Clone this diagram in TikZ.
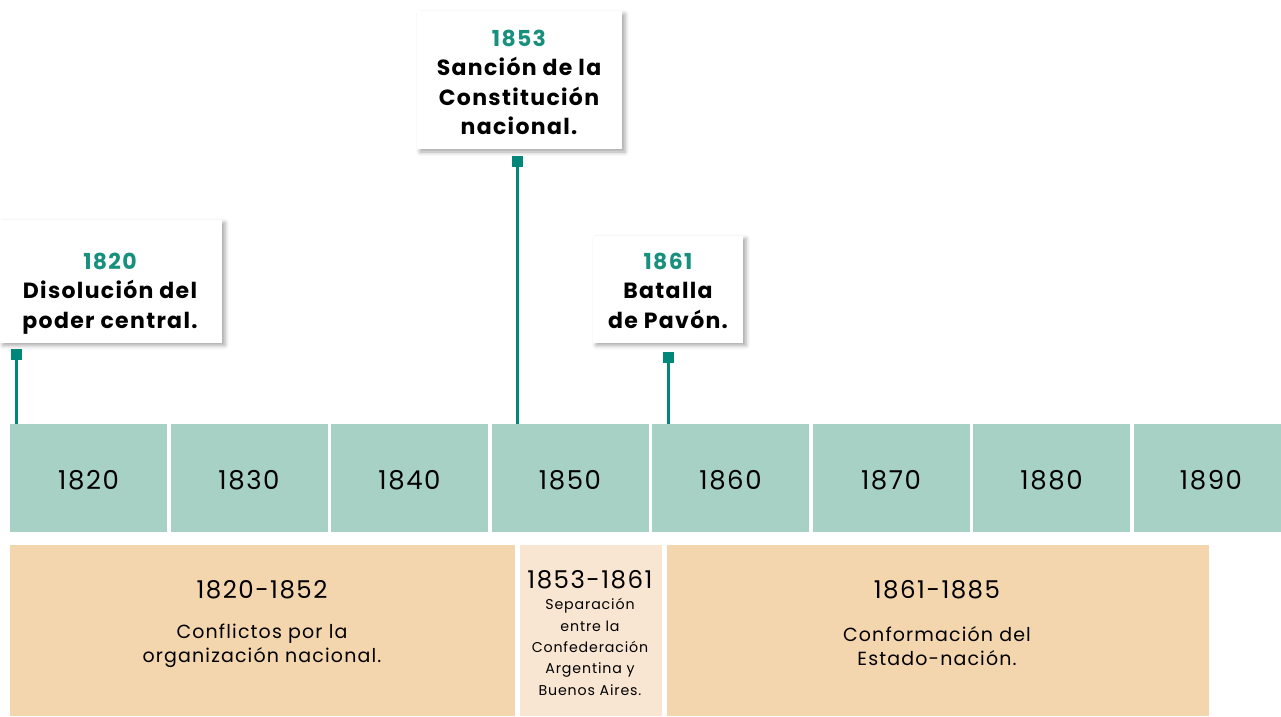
\documentclass[tikz,border=0pt]{standalone}
\usepackage{fontspec}
\setmainfont{Poppins}[LetterSpace=6]
\usetikzlibrary{shadows.blur}
\definecolor{tl}{HTML}{A8D1C5}
\definecolor{stem}{HTML}{00877A}
\definecolor{grn}{HTML}{17907E}
\definecolor{tan}{HTML}{F3D5AE}
\definecolor{ltan}{HTML}{F8E6D2}
\tikzset{
  decfont/.style={font=\fontsize{26}{30}\selectfont, text height=22pt, text depth=0pt},
  decbox/.style={decfont, fill=tl, draw=none, minimum width=157pt, minimum height=108pt, inner sep=0pt},
  callout/.style={fill=white, draw=none, inner sep=0pt, blur shadow={shadow xshift=3pt, shadow yshift=-3pt, shadow blur radius=4pt, shadow opacity=35}},
  ctext/.style={align=center, font=\fontsize{22}{29.5}\selectfont\bfseries, inner sep=0pt},
  marker/.style={fill=stem, draw=none, minimum size=11pt, inner sep=0pt},
  stemline/.style={draw=stem, line width=2.6pt},
  perbox/.style={draw=none, inner sep=0pt},
  ptitle/.style={font=\fontsize{24.5}{28}\selectfont, inner sep=0pt},
  pbody/.style={align=center, font=\fontsize{19}{24}\selectfont, inner sep=0pt},
  psmall/.style={align=center, font=\fontsize{14.2}{21.3}\selectfont, inner sep=0pt}
}
\begin{document}
\begin{tikzpicture}[x=1pt,y=-1pt]
\useasboundingbox (0,0) rectangle (1281,716);
% timeline
\foreach \i/\yr in {0/1820,1/1830,2/1840,3/1850,4/1860,5/1870,6/1880}{
  \node[decbox] (t\yr) at ({88.5+160.5*\i},478) {\yr};
}
\begin{scope}
\clip (0,0) rectangle (1281,716);
\node[decbox] (t1890) at ({88.5+160.5*7},478) {\hphantom{0}};
\end{scope}
\node[decfont, inner sep=0pt] (l1890) at (1211,478) {1890};
% period boxes
\node[perbox, fill=tan, minimum width=505pt, minimum height=171pt] (pA) at (262.5,630.5) {};
\node[perbox, fill=ltan, minimum width=142pt, minimum height=171pt] (pB) at (591,630.5) {};
\node[perbox, fill=tan, minimum width=542pt, minimum height=171pt] (pC) at (938,630.5) {};
\node[ptitle] (pAt) at (262,590) {1820-1852};
\node[pbody] (pAb) at (262,646) {Conflictos por la\\organización nacional.};
\node[ptitle] (pBt) at (590,580) {1853-1861};
\node[psmall] (pBb) at (590,647) {Separación\\entre la\\Confederación\\Argentina y\\Buenos Aires.};
\node[ptitle] (pCt) at (937,590) {1861-1885};
\node[pbody] (pCb) at (937,646) {Conformación del\\Estado-nación.};
% callouts
\node[callout, minimum width=222pt, minimum height=123pt] (c1820) at (111,281) {};
\node[ctext] (c1820t) at (110,293.5) {\textcolor{grn}{1820}\\Disolución del\\poder central.};
\node[callout, minimum width=205pt, minimum height=138pt] (c1853) at (519.5,80) {};
\node[ctext] (c1853t) at (519,82.5) {\textcolor{grn}{1853}\\Sanción de la\\Constitución\\nacional.};
\node[callout, minimum width=150pt, minimum height=107pt] (c1861) at (668,289) {};
\node[ctext] (c1861t) at (668,290.5) {\textcolor{grn}{1861}\\Batalla\\de Pavón.};
% markers and stems
\node[marker] (m1820) at (16.5,354) {};
\node[marker] (m1853) at (517.5,161) {};
\node[marker] (m1861) at (668.5,357) {};
\draw[stemline] (m1820.south) -- (m1820.south |- t1820.north);
\draw[stemline] (m1853.south) -- (m1853.south |- t1850.north);
\draw[stemline] (m1861.south) -- (m1861.south |- t1860.north);
\end{tikzpicture}
\end{document}
